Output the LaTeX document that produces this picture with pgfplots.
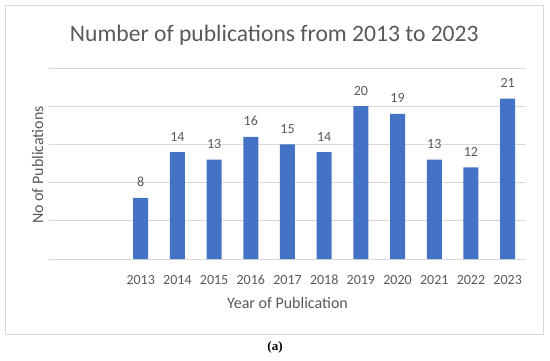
\documentclass[border=0pt]{standalone}
\usepackage{pgfplots}
\pgfplotsset{compat=1.18}
\usepackage{fontspec}
\setmainfont{Carlito}
\newfontfamily\capfont{Liberation Serif}
\definecolor{barblue}{HTML}{4472C4}
\definecolor{txtgray}{HTML}{595959}
\definecolor{gridgray}{HTML}{D9D9D9}
\begin{document}
\begin{tikzpicture}
\path[use as bounding box] (0pt,0pt) rectangle (550pt,360pt);
\draw[gridgray, line width=0.9pt] (5pt,26pt) rectangle (543pt,354.3pt);
\begin{axis}[
  at={(49pt,101pt)}, anchor=south west,
  scale only axis, width=477pt, height=191pt,
  xmin=-0.5, xmax=12.5, ymin=0, ymax=25,
  ytick={0,5,...,25}, yticklabels={},
  xtick={2,...,12},
  xticklabels={2013,2014,2015,2016,2017,2018,2019,2020,2021,2022,2023},
  major tick length=0pt,
  axis line style={draw=none},
  ymajorgrids, grid style={gridgray, line width=0.9pt},
  xticklabel style={font=\fontsize{14}{16}\selectfont, text=txtgray, anchor=base, yshift=-25pt},
  clip=false,
  /pgf/number format/assume math mode=true,
  nodes near coords,
  nodes near coords style={font=\fontsize{14}{16}\selectfont, text=txtgray, anchor=base, yshift=11pt},
]
\addplot[ybar, bar width=15pt, fill=barblue, draw=none] coordinates {
  (2,8) (3,14) (4,13) (5,16) (6,15) (7,14) (8,20) (9,19) (10,13) (11,12) (12,21)
};
\end{axis}
\node[anchor=base, text=txtgray, font=\fontsize{23.6}{27}\selectfont] at (274.3pt,319pt) {Number of publications from 2013 to 2023};
\node[anchor=base, text=txtgray, font=\fontsize{16}{18}\selectfont] at (287.5pt,52pt) {Year of Publication};
\node[anchor=base, rotate=90, text=txtgray, font=\fontsize{16}{18}\selectfont] at (43pt,195pt) {No of Publications};
\node[anchor=base, font=\capfont\bfseries\fontsize{13}{15}\selectfont] at (275pt,10pt) {(a)};
\end{tikzpicture}
\end{document}
